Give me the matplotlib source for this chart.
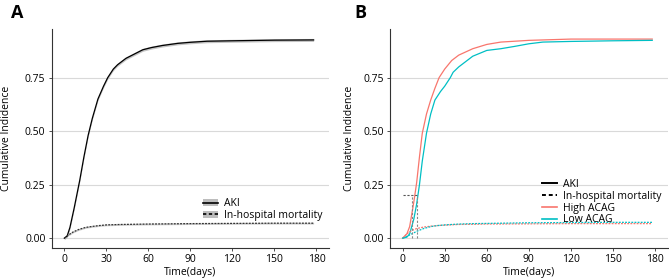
import matplotlib
matplotlib.use("Agg")
import matplotlib.pyplot as plt
import numpy as np
from matplotlib.lines import Line2D
from matplotlib.patches import Patch

plt.rcParams['font.family'] = ['Open Sans', 'DejaVu Sans']

# Panel A data
days_a = [0, 2, 4, 7, 11, 14, 17, 20, 24, 28, 31, 35, 38, 44, 50, 56, 62, 70, 81, 90, 102, 120, 150, 178]
aki_a = [0, 0.01, 0.05, 0.14, 0.27, 0.38, 0.48, 0.56, 0.65, 0.71, 0.75, 0.79, 0.81, 0.84, 0.86, 0.88, 0.89, 0.90, 0.91, 0.915, 0.92, 0.922, 0.925, 0.926]
days_m = [0, 3, 6, 10, 15, 20, 25, 30, 40, 60, 90, 120, 150, 178]
mort_a = [0, 0.015, 0.028, 0.04, 0.05, 0.055, 0.059, 0.062, 0.064, 0.066, 0.068, 0.069, 0.07, 0.07]

# Panel B data
days_hi = [0, 3, 5, 8, 10, 12, 14, 17, 20, 23, 26, 30, 35, 40, 50, 60, 70, 90, 120, 150, 178]
aki_high = [0, 0.02, 0.054, 0.17, 0.26, 0.38, 0.49, 0.58, 0.645, 0.70, 0.75, 0.79, 0.83, 0.855, 0.885, 0.905, 0.916, 0.924, 0.93, 0.93, 0.93]
days_lo = [0, 3, 5, 8, 10, 12, 14, 17, 20, 23, 27, 30, 34, 36, 40, 50, 60, 70, 80, 90, 100, 120, 150, 178]
aki_low = [0, 0.005, 0.02, 0.09, 0.16, 0.25, 0.36, 0.49, 0.58, 0.645, 0.685, 0.71, 0.75, 0.775, 0.80, 0.85, 0.877, 0.885, 0.896, 0.908, 0.916, 0.919, 0.922, 0.924]
days_mb = [0, 3, 5, 8, 10, 15, 20, 25, 30, 40, 50, 60, 90, 120, 150, 178]
mort_high = [0, 0.02, 0.03, 0.04, 0.045, 0.052, 0.056, 0.059, 0.061, 0.064, 0.065, 0.066, 0.067, 0.068, 0.068, 0.068]
mort_low = [0, 0.008, 0.015, 0.025, 0.032, 0.045, 0.054, 0.059, 0.062, 0.066, 0.068, 0.069, 0.072, 0.073, 0.074, 0.074]

xticks = [0, 30, 60, 90, 120, 150, 180]
yticks = [0, 0.25, 0.5, 0.75]
ytick_labels = ['0.00', '0.25', '0.50', '0.75']

RED = '#F8766D'
CYAN = '#00BFC4'
FS = 7.5

fig = plt.figure(figsize=(6.69, 2.79), dpi=100)
axA = fig.add_axes([0.0773, 0.111, 0.4145, 0.785])
axB = fig.add_axes([0.583, 0.111, 0.415, 0.785])

def style(ax, ylpad):
    ax.set_xlim(-9, 189)
    ax.set_ylim(-0.046, 0.977)
    ax.set_xticks(xticks)
    ax.set_yticks(yticks)
    ax.set_yticklabels(ytick_labels)
    for y in yticks:
        ax.axhline(y, color='#d9d9d9', lw=0.8, zorder=0)
    for s in ['top', 'right']:
        ax.spines[s].set_visible(False)
    for s in ['left', 'bottom']:
        ax.spines[s].set_color('#333333')
        ax.spines[s].set_linewidth(0.8)
    ax.tick_params(axis='both', labelsize=FS, colors='#333333', length=2.5, width=0.6, pad=2)
    for lab in ax.get_xticklabels() + ax.get_yticklabels():
        lab.set_color('black')
    ax.set_xlabel('Time(days)', fontsize=FS, labelpad=1)
    ax.set_ylabel('Cumulative Indidence', fontsize=FS, labelpad=ylpad)

style(axA, 9)
style(axB, 6)

# Panel A
da = np.array(days_a); aa = np.array(aki_a)
axA.fill_between(da, aa - 0.007, aa + 0.007, color='#bdbdbd', alpha=0.9, lw=0)
axA.plot(da, aa, color='black', lw=0.9)
dm = np.array(days_m); ma = np.array(mort_a)
axA.fill_between(dm, np.maximum(ma - 0.004, 0), ma + 0.004, color='#c8c8c8', alpha=0.9, lw=0)
axA.plot(dm, ma, color='#333333', lw=0.9, ls=(0, (1.5, 1)))

hA = [(Patch(facecolor='#bdbdbd', edgecolor='none'), Line2D([], [], color='black', lw=1.2)),
      (Patch(facecolor='#bdbdbd', edgecolor='none'), Line2D([], [], color='black', lw=1.2, ls=(0, (2, 1.5))))]
axA.legend(hA, ['AKI', 'In-hospital mortality'], loc='lower right', bbox_to_anchor=(1.0, 0.095),
           frameon=False, fontsize=FS, handlelength=1.4, handletextpad=0.6, labelspacing=0.05,
           borderpad=0.1)

# Panel B
axB.plot(days_hi, aki_high, color=RED, lw=0.9)
axB.plot(days_lo, aki_low, color=CYAN, lw=0.9)
axB.plot(days_mb, mort_high, color=RED, lw=0.9, ls=(0, (1.5, 1)))
axB.plot(days_mb, mort_low, color=CYAN, lw=0.9, ls=(0, (1.5, 1)))
axB.plot([0, 10.5], [0.2, 0.2], color='#555555', lw=0.8, ls=(0, (2, 1.5)))
axB.plot([7, 7], [0, 0.2], color='#888888', lw=0.8, ls=(0, (2, 1.5)))
axB.plot([10.5, 10.5], [0, 0.2], color='#888888', lw=0.8, ls=(0, (2, 1.5)))

hB = [Line2D([], [], color='black', lw=1.4),
      Line2D([], [], color='black', lw=1.4, ls=(0, (2, 1.5))),
      Line2D([], [], color=RED, lw=1.2),
      Line2D([], [], color=CYAN, lw=1.2)]
axB.legend(hB, ['AKI', 'In-hospital mortality', 'High ACAG', 'Low ACAG'], loc='lower right',
           bbox_to_anchor=(1.0, 0.075), frameon=False, fontsize=FS, handlelength=1.4,
           handletextpad=0.6, labelspacing=0.08, borderpad=0.1)

fig.text(0.016, 0.935, 'A', fontsize=13, fontweight='bold')
fig.text(0.530, 0.935, 'B', fontsize=13, fontweight='bold')

fig.savefig('out.png', dpi=100)
